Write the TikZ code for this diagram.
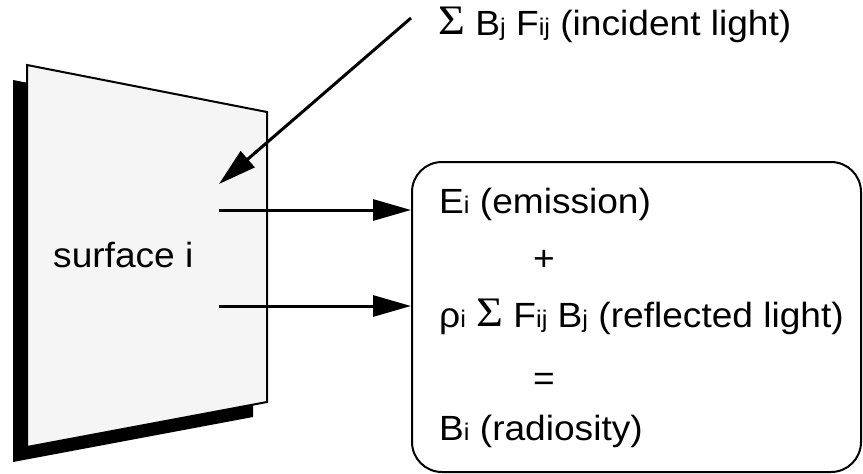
\documentclass[tikz,border=0pt]{standalone}
\usepackage{fontspec}
\setmainfont{Liberation Sans}[FakeStretch=1.06]
\newfontfamily\sigmafont{Liberation Serif}[FakeStretch=1.1]
\usetikzlibrary{arrows.meta}
\newcommand{\sbs}[1]{{\fontsize{24}{24}\selectfont #1}}
\newcommand{\sig}{\raisebox{1pt}{\sigmafont\fontsize{42}{42}\selectfont Σ}}
\definecolor{surf}{RGB}{245,245,245}
\tikzset{
  lbl/.style={inner sep=0pt, anchor=base west, font=\fontsize{35}{42}\selectfont},
  sym/.style={inner sep=0pt, anchor=center, font=\fontsize{35}{42}\selectfont},
  conn/.style={line width=3pt, -{Triangle[length=38pt,width=21pt]}},
  outline/.style={line width=2pt, draw=black}
}
\begin{document}
\begin{tikzpicture}[x=1pt,y=-1pt]
\useasboundingbox (0,0) rectangle (863,474);
% surface with shadow
\fill[black] (13,80) -- (253,127) -- (253,417) -- (13,462) -- cycle;
\filldraw[fill=surf, outline, line join=miter] (27,65) -- (267,112) -- (267,402) -- (27,447) -- cycle;
\node[lbl] (surf) at (53,267) {surface i};
% result box
\node[outline, rounded corners=30pt, minimum width=449pt, minimum height=310pt, inner sep=0pt] (box) at (636.5,317) {};
\node[lbl] (emi) at (439,213) {E\sbs{i} (emission)};
\node[sym] (plus) at (544,260) {+};
\node[lbl] (refl) at (439,327) {ρ\sbs{i} \sig{} F\sbs{ij} B\sbs{j} (reflected light)};
\node[sym] (eq) at (544,382) {=};
\node[lbl] (rad) at (439,440) {B\sbs{i} (radiosity)};
% incident label
\node[lbl] (inc) at (438,35) {\sig{} B\sbs{j} F\sbs{ij} (incident light)};
% connectors
\coordinate (incs) at (411,18);
\coordinate (inct) at (219,184);
\coordinate (a1) at (219,210);
\coordinate (a2) at (219,306);
\draw[conn] (incs) -- (inct);
\draw[conn] (a1) -- (box.west |- a1);
\draw[conn] (a2) -- (box.west |- a2);
\end{tikzpicture}
\end{document}
